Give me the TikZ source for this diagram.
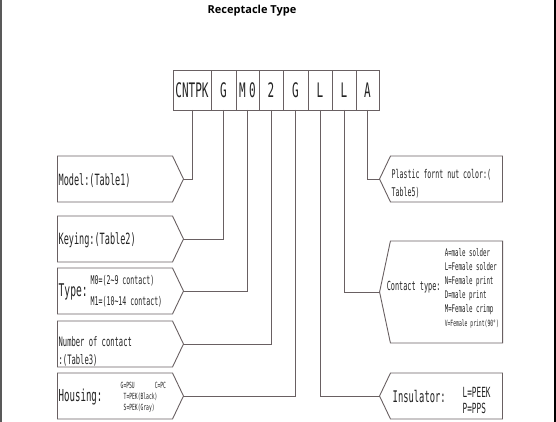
\documentclass[tikz,border=0pt]{standalone}
\usepackage{fontspec}
\usepackage{tikz}
\usetikzlibrary{positioning,shapes.symbols}
\newfontfamily\cad[FakeStretch=0.55]{DejaVu Sans Mono}
\newfontfamily\headfont{Open Sans}
\newcommand{\cadsize}[2]{\cad\fontsize{#1}{#2}\selectfont}
\definecolor{cadline}{RGB}{105,96,98}
\definecolor{cadtext}{RGB}{35,35,35}

\begin{document}
\begin{tikzpicture}[x=1pt,y=-1pt,
    cell/.style={draw=cadline,line width=0.9pt,minimum height=40pt,inner sep=0pt,outer sep=0pt,text=cadtext,font=\cadsize{20}{20}},
    tagL/.style={signal,signal to=east,signal pointer angle=129,draw=cadline,line width=0.9pt,minimum width=126pt,minimum height=46pt,inner sep=0pt,outer sep=0pt},
    tagR/.style={signal,signal to=west,signal pointer angle=129,draw=cadline,line width=0.9pt,minimum width=123pt,minimum height=46pt,inner sep=0pt,outer sep=0pt},
    txt/.style={anchor=west,inner sep=0pt,text=cadtext,align=left},
    link/.style={draw=cadline,line width=0.9pt}]
  \useasboundingbox (0,0) rectangle (556,422);
  % frame edges
  \draw[gray!70!black,line width=1.5pt] (0.75,0) -- (0.75,422);
  \draw[black,line width=1.8pt] (555,0) -- (555,422);

  \node[font=\headfont\bfseries\fontsize{11}{13}\selectfont] (title) at (252,11) {Receptacle Type};

  % part number cells
  \node[cell,minimum width=38pt] (cntpk) at (192,90) {CNTPK};
  \node[cell,minimum width=25pt,right=0pt of cntpk] (key) {G};
  \node[cell,minimum width=23pt,right=0pt of key] (type) {M\,0};
  \node[cell,minimum width=24pt,right=0pt of type] (num) {2};
  \node[cell,minimum width=25pt,right=0pt of num] (house) {G};
  \node[cell,minimum width=24pt,right=0pt of house] (insul) {L};
  \node[cell,minimum width=24pt,right=0pt of insul] (cont) {L};
  \node[cell,minimum width=23pt,right=0pt of cont] (nut) {A};

  % left tags
  \node[tagL] (model) at (115,179) {};
  \node[tagL,below=14pt of model] (keying) {};
  \node[tagL,below=6pt of keying] (typebox) {};
  \node[tagL,below=7pt of typebox] (numbox) {};
  \node[tagL,below=6pt of numbox] (housebox) {};

  % right tags
  \node[tagR] (nutbox) at (446.5,179) {};
  \node[tagR,minimum height=102pt,signal pointer angle=156,below=39pt of nutbox] (contbox) {};
  \node[tagR,below=30pt of contbox] (insulbox) {};

  \draw[link] (cntpk.south) |- (model.east);
  \draw[link] (key.south) |- (keying.east);
  \draw[link] (type.south) |- (typebox.east);
  \draw[link] (num.south) |- (numbox.east);
  \draw[link] (house.south) |- (housebox.east);
  \draw[link] (insul.south) |- (insulbox.west);
  \draw[link] (cont.south) |- (contbox.west);
  \draw[link] (nut.south) |- (nutbox.west);

  \node[txt,font=\cadsize{15.5}{16}] (modeltxt) at ([xshift=1pt,yshift=-2pt]model.west) {Model:(Table1)};
  \node[txt,font=\cadsize{15.5}{16}] (keytxt) at ([xshift=1pt,yshift=-1pt]keying.west) {Keying:(Table2)};
  \node[txt,font=\cadsize{17.5}{18}] (typetxt) at ([xshift=1pt,yshift=-1pt]typebox.west) {Type:};
  \node[txt,font=\cadsize{12}{21}] (typeopt) at ([xshift=33pt]typebox.west) {M0=(2\textasciitilde9 contact)\\M1=(10\textasciitilde14 contact)};
  \node[txt,font=\cadsize{13}{18}] (numtxt) at ([xshift=1pt,yshift=-7pt]numbox.west) {Number of contact\\:(Table3)};
  \node[txt,font=\cadsize{16.5}{17}] (housetxt) at ([xshift=1pt,yshift=-1pt]housebox.west) {Housing:};
  \node[txt,font=\cadsize{8.5}{11}] (houseopt) at ([xshift=63pt,yshift=-1pt]housebox.west) {G=PSU\hspace{20pt}C=PC\\\hspace{3pt}T=PEK(Black)\\\hspace{3pt}S=PEK(Gray)};

  \node[txt,font=\cadsize{12}{18}] (nuttxt) at ([xshift=12pt,yshift=-5pt]nutbox.west) {Plastic fornt nut color:(\\Table5)};
  \node[txt,font=\cadsize{12.5}{13}] (conttxt) at ([xshift=7pt,yshift=5pt]contbox.west) {Contact type:};
  \node[txt,font=\cadsize{10.5}{14}] (contopt) at ([xshift=65pt,yshift=4pt]contbox.west) {A=male solder\\L=Female solder\\N=Female print\\D=male print\\M=Female crimp\\{\cadsize{8.6}{14}V=Female print(90°)}};
  \node[txt,font=\cadsize{16}{16}] (insultxt) at ([xshift=13pt]insulbox.west) {Insulator:};
  \node[txt,font=\cadsize{14}{16}] (insulopt) at ([xshift=83pt,yshift=-4pt]insulbox.west) {L=PEEK\\P=PPS};
\end{tikzpicture}
\end{document}
